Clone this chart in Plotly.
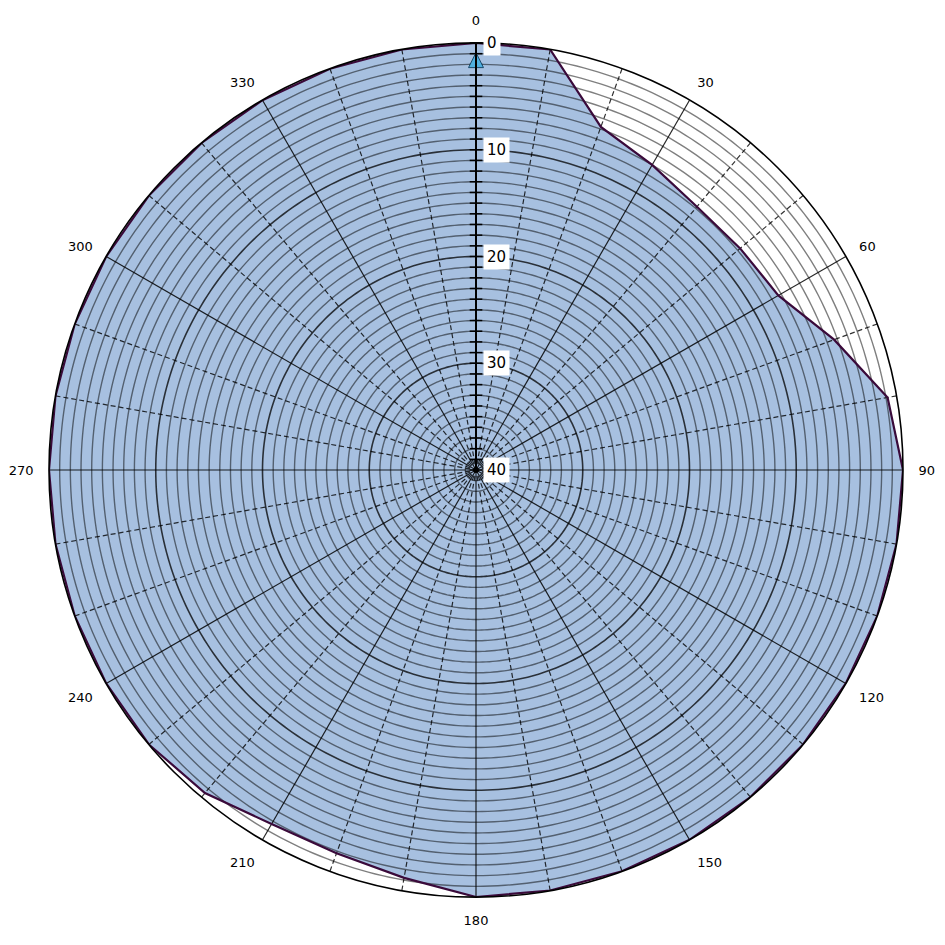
import plotly.graph_objects as go
import numpy as np

# ---- data ----
theta_deg = [0, 10, 20, 30, 40, 50, 60, 70, 80, 90, 100, 110, 120, 130, 140, 150, 160, 170,
             180, 190, 200, 210, 220, 230, 240, 250, 260, 270, 280, 290, 300, 310, 320, 330, 340, 350]
values = [0, 0, 5.8, 7.0, 7.8, 7.7, 7.3, 4.3, 0.85, 0, 0, 0, 0, 0, 0, 0, 0, 0,
          0, 1.2, 1.8, 1.7, 0.5, 0, 0, 0, 0, 0, 0, 0, 0, 0, 0, 0, 0, 0]
angular_ticks = [0, 30, 60, 90, 120, 150, 180, 210, 240, 270, 300, 330]
angular_labels = [str(a) for a in angular_ticks]
radial_ticks = [0, 10, 20, 30, 40]
radial_labels = [str(v) for v in radial_ticks]
R_MAX = 40

fig = go.Figure()

# filled area
th_closed = theta_deg + [theta_deg[0]]
v_closed = values + [values[0]]
fig.add_trace(go.Scatterpolar(r=v_closed, theta=th_closed, mode="lines", fill="toself",
                              fillcolor="#a7c0e0", line=dict(width=0), hoverinfo="skip",
                              showlegend=False))

# minor circles every 1 unit, major every 10
circ_t = list(np.arange(0, 361, 1.0))
minor_r, minor_t, major_r, major_t = [], [], [], []
for k in range(1, R_MAX):
    if k % 10 == 0:
        major_r += [k] * len(circ_t) + [None]
        major_t += circ_t + [None]
    else:
        minor_r += [k] * len(circ_t) + [None]
        minor_t += circ_t + [None]
fig.add_trace(go.Scatterpolar(r=minor_r, theta=minor_t, mode="lines",
                              line=dict(color="rgba(0,0,0,0.5)", width=1.4),
                              hoverinfo="skip", showlegend=False))
fig.add_trace(go.Scatterpolar(r=major_r, theta=major_t, mode="lines",
                              line=dict(color="rgba(0,0,0,0.75)", width=1.6),
                              hoverinfo="skip", showlegend=False))

# spokes
sol_r, sol_t, das_r, das_t = [], [], [], []
for a in range(0, 360, 10):
    if a % 30 == 0:
        sol_r += [0, R_MAX, None]
        sol_t += [a, a, None]
    else:
        das_r += [0, R_MAX, None]
        das_t += [a, a, None]
fig.add_trace(go.Scatterpolar(r=das_r, theta=das_t, mode="lines",
                              line=dict(color="rgba(0,0,0,0.8)", width=1.2, dash="5px,3px"),
                              hoverinfo="skip", showlegend=False))
fig.add_trace(go.Scatterpolar(r=sol_r, theta=sol_t, mode="lines",
                              line=dict(color="rgba(0,0,0,0.85)", width=1.2),
                              hoverinfo="skip", showlegend=False))

# outline on top
fig.add_trace(go.Scatterpolar(r=v_closed, theta=th_closed, mode="lines",
                              line=dict(color="#3a0a3a", width=2.2), hoverinfo="skip",
                              showlegend=False))

# radial axis tick marks every unit
fig.add_trace(go.Scatterpolar(r=list(range(0, R_MAX + 1)), theta=[0] * (R_MAX + 1), mode="markers",
                              marker=dict(symbol="line-ew", size=9,
                                          line=dict(color="black", width=1.5)),
                              hoverinfo="skip", showlegend=False))
# arrow marker at top
fig.add_trace(go.Scatterpolar(r=[0.9], theta=[0], mode="markers",
                              marker=dict(symbol="arrow-up", size=15, color="#4fb0e0",
                                          line=dict(color="#1a4a6a", width=1)),
                              hoverinfo="skip", showlegend=False))

# radial tick labels with white boxes
for v, lab in zip(radial_ticks, radial_labels):
    frac = (R_MAX - v) / R_MAX
    fig.add_annotation(x=0.5, y=0.5 + 0.5 * frac, xref="paper", yref="paper",
                       text=lab, showarrow=False, xanchor="left", yanchor="middle",
                       xshift=7, bgcolor="white", borderpad=3,
                       font=dict(family="DejaVu Sans", size=15, color="black"))

fig.update_layout(
    width=929, height=929,
    margin=dict(l=41, r=34, t=35, b=40),
    paper_bgcolor="white",
    showlegend=False,
    polar=dict(
        domain=dict(x=[0, 1], y=[0, 1]),
        bgcolor="white",
        radialaxis=dict(range=[R_MAX, 0], angle=90, showgrid=False, showline=True,
                        linecolor="black", linewidth=2, showticklabels=False, ticks=""),
        angularaxis=dict(rotation=90, direction="clockwise", tickmode="array",
                         tickvals=angular_ticks, ticktext=angular_labels,
                         showgrid=False, showline=True, linecolor="black", linewidth=1.6,
                         ticks="outside", ticklen=12, tickcolor="rgba(0,0,0,0)",
                         tickfont=dict(family="DejaVu Sans", size=13, color="black")),
    ),
)

fig.write_html("out.html")
